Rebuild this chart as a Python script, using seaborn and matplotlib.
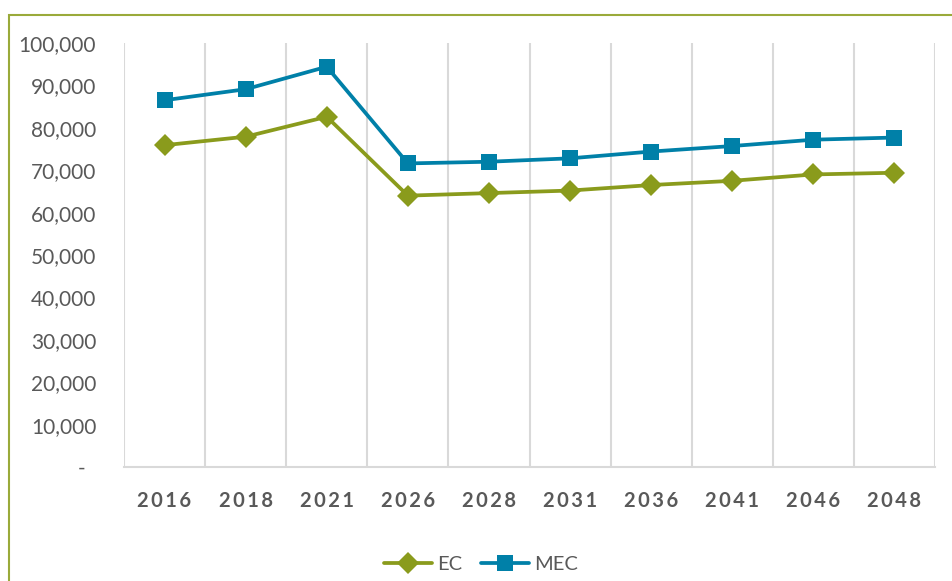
import numpy as np
import pandas as pd
import seaborn as sns
import matplotlib.pyplot as plt
from matplotlib.patches import Rectangle
from matplotlib.ticker import FuncFormatter, FixedLocator

years = ["2016", "2018", "2021", "2026", "2028", "2031", "2036", "2041", "2046", "2048"]
ec = [75900, 77900, 82600, 64000, 64600, 65200, 66500, 67500, 69000, 69400]
mec = [86500, 89100, 94400, 71600, 72000, 72800, 74400, 75700, 77200, 77700]
series_names = ["EC", "MEC"]

GREEN = "#8A9B1C"
BLUE = "#0080A8"
GREY_TXT = "#595959"
GRID = "#D9D9D9"

sns.set_style("white")
plt.rcParams["font.family"] = ["Lato", "DejaVu Sans"]

df = pd.DataFrame({
    "year": years * 2,
    "value": ec + mec,
    "series": [series_names[0]] * len(years) + [series_names[1]] * len(years),
})

fig = plt.figure(figsize=(9.52, 5.81), dpi=100)
ax = fig.add_axes([124 / 952, 1 - 467 / 581, (935 - 124) / 952, (467 - 43) / 581])

sns.lineplot(
    data=df, x="year", y="value", hue="series", style="series",
    palette={"EC": GREEN, "MEC": BLUE},
    markers={"EC": "D", "MEC": "s"}, dashes=False,
    linewidth=2.7, markersize=11, markeredgewidth=0,
    ax=ax, legend=True, sort=False,
)
for line in ax.lines:
    if line.get_marker() == "s":
        line.set_markersize(11.5)

ax.set_xlim(-0.5, len(years) - 0.5)
ax.set_ylim(0, 100000)
ax.yaxis.set_major_locator(FixedLocator(np.arange(0, 100001, 10000)))
# accounting style: zero shown as a dash, set in a little from the numbers
ax.yaxis.set_major_formatter(
    FuncFormatter(lambda v, _: "-\u2002" if v == 0 else f"{v:,.0f}"))

ax.set_xticks(range(len(years)))
ax.set_xticklabels(["\u2009".join(y) for y in years], fontweight="bold",
                   fontsize=14.5, color=GREY_TXT)
ax.set_xticks(np.arange(-0.5, len(years), 1), minor=True)
ax.grid(which="minor", axis="x", color=GRID, linewidth=1.5)
ax.grid(which="major", axis="both", visible=False)
ax.tick_params(axis="x", which="both", length=0, pad=17)
ax.tick_params(axis="y", length=0, pad=20, labelsize=15, labelcolor=GREY_TXT)

for s in ["top", "right", "left"]:
    ax.spines[s].set_visible(False)
ax.spines["bottom"].set_color(GRID)
ax.spines["bottom"].set_linewidth(1.5)

ax.set_xlabel("")
ax.set_ylabel("")

handles, labels = ax.get_legend_handles_labels()
ax.legend(handles, labels, loc="center", bbox_to_anchor=(0.44, -0.23),
          ncol=2, frameon=False, fontsize=14.5, labelcolor=GREY_TXT,
          handlelength=2.4, handletextpad=0.25, columnspacing=0.9)

# outer chart border (olive), only left and top visible in the crop
fig.patches.append(Rectangle((9 / 952, -0.1), 1.2, 1.1 - 15 / 581,
                             transform=fig.transFigure, fill=False,
                             edgecolor="#9AAA3A", linewidth=1.5, figure=fig))

fig.savefig("out.png", dpi=100)
